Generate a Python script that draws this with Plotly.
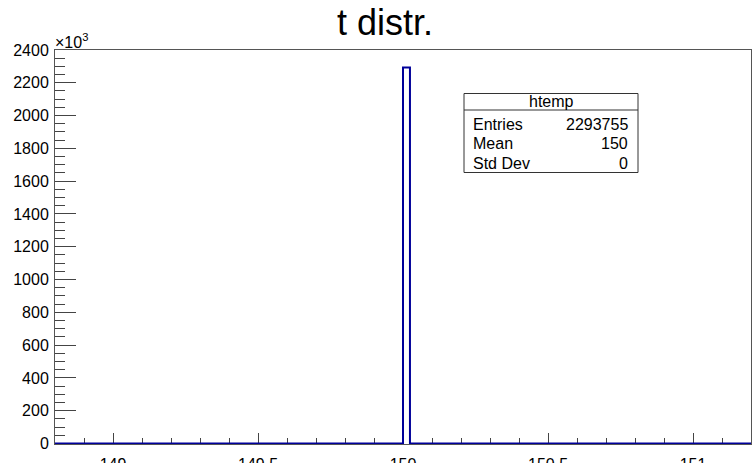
import plotly.graph_objects as go

# histogram data (counts in units of 10^3)
bin_edges = [148.8, 150.0, 150.024, 151.2]
bin_counts = [0.0, 2293.755, 0.0, 0.0]

x_tickvals = [149, 149.5, 150, 150.5, 151]
x_ticktext = ["149", "149.5", "150", "150.5", "151"]
y_tickvals = [0, 200, 400, 600, 800, 1000, 1200, 1400, 1600, 1800, 2000, 2200, 2400]

stats_labels = ["Entries", "Mean", "Std Dev"]
stats_values = ["2293755", "150", "0"]

FONT = "Liberation Sans, Arial, Helvetica, sans-serif"
HIST_COLOR = "#000099"
FRAME = "#555555"

fig = go.Figure()
fig.add_trace(go.Scatter(
    x=bin_edges, y=bin_counts, mode="lines", line_shape="hv",
    line=dict(color=HIST_COLOR, width=2), hoverinfo="skip", showlegend=False,
    cliponaxis=False,
))

W, H = 753, 463
L, R, T, B = 55, 2, 50, 19
pw, ph = W - L - R, H - T - B

def px(x):
    return (x - L) / pw

def py(y):
    return (H - B - y) / ph

fig.update_layout(
    width=W, height=H,
    margin=dict(l=L, r=R, t=T, b=B, autoexpand=False),
    paper_bgcolor="white", plot_bgcolor="white",
    font=dict(family=FONT, color="black", size=16),
    title=dict(text="t distr.", x=385 / W, xanchor="center", y=1 - 10 / H, yanchor="top",
               font=dict(size=36, family=FONT, color="black")),
    xaxis=dict(
        range=[148.8, 151.2], tickvals=x_tickvals, ticktext=x_ticktext,
        ticks="inside", ticklen=11, tickwidth=1, tickcolor="#444444",
        minor=dict(dtick=0.1, tick0=149, ticks="inside", ticklen=6, tickcolor="#444444", showgrid=False),
        showgrid=False, zeroline=False, showline=True, linecolor=FRAME, linewidth=1, mirror=True,
        tickfont=dict(size=16), ticklabelstandoff=6, layer="below traces", automargin=False,
    ),
    yaxis=dict(
        range=[-3, 2400], tickvals=y_tickvals,
        ticks="inside", ticklen=21, tickwidth=1, tickcolor="#444444",
        minor=dict(dtick=50, tick0=0, ticks="inside", ticklen=10, tickcolor="#444444", showgrid=False),
        showgrid=False, zeroline=False, showline=True, linecolor=FRAME, linewidth=1, mirror=True,
        tickfont=dict(size=16), ticklabelstandoff=2, layer="below traces", automargin=False,
    ),
)

# x10^3 exponent label
fig.add_annotation(xref="paper", yref="paper", x=px(53), y=py(50), xanchor="left", yanchor="bottom",
                   text="×10<sup>3</sup>", showarrow=False, font=dict(size=16, family=FONT), yshift=-3)

# stats box
bx0, bx1, by0, by1, bsep = px(464), px(638), py(172.5), py(93.5), py(110)
fig.add_shape(type="rect", xref="paper", yref="paper", x0=bx0, x1=bx1, y0=by0, y1=by1,
              line=dict(color="#333333", width=1), fillcolor="white", layer="above")
fig.add_shape(type="line", xref="paper", yref="paper", x0=bx0, x1=bx1, y0=bsep, y1=bsep,
              line=dict(color="#333333", width=1), layer="above")
fig.add_annotation(xref="paper", yref="paper", x=px(551), y=py(102), text="htemp", showarrow=False,
                   xanchor="center", yanchor="middle", font=dict(size=16, family=FONT))
row_y = [124, 143.5, 163]
for lab, val, yy in zip(stats_labels, stats_values, row_y):
    fig.add_annotation(xref="paper", yref="paper", x=px(471), y=py(yy), text=lab, showarrow=False,
                       xanchor="left", yanchor="middle", font=dict(size=16, family=FONT))
    fig.add_annotation(xref="paper", yref="paper", x=px(630), y=py(yy), text=val, showarrow=False,
                       xanchor="right", yanchor="middle", font=dict(size=16, family=FONT))

fig.write_html("out.html")
